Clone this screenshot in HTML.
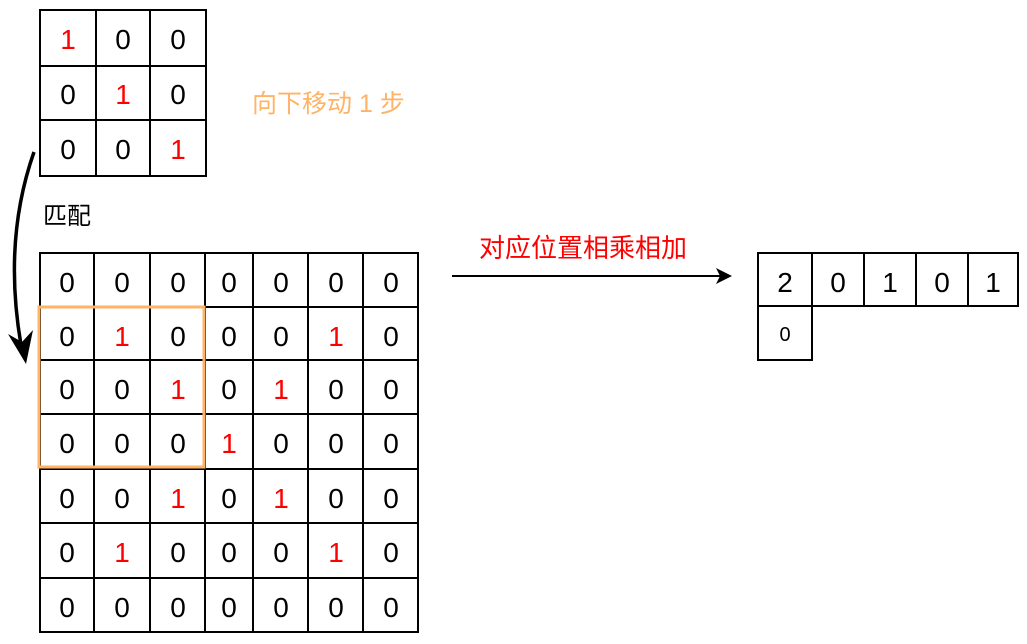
<!DOCTYPE html>
<html><head><meta charset="utf-8"><style>body{margin:0;background:#fff}</style></head><body>
<svg width="1027" height="639" xmlns="http://www.w3.org/2000/svg" font-family="Liberation Sans, Noto Sans CJK SC, sans-serif">
<rect width="1027" height="639" fill="#fff"/>
<g stroke="#000" stroke-width="2" fill="none">
<rect x="40" y="10" width="166" height="166"/>
<line x1="96" y1="10" x2="96" y2="176"/><line x1="150" y1="10" x2="150" y2="176"/>
<line x1="40" y1="66" x2="206" y2="66"/><line x1="40" y1="120" x2="206" y2="120"/>
<rect x="40" y="253" width="378" height="379"/>
<line x1="94" y1="253" x2="94" y2="632"/><line x1="150" y1="253" x2="150" y2="632"/><line x1="205" y1="253" x2="205" y2="632"/><line x1="253" y1="253" x2="253" y2="632"/><line x1="308" y1="253" x2="308" y2="632"/><line x1="363" y1="253" x2="363" y2="632"/>
<line x1="40" y1="307" x2="418" y2="307"/><line x1="40" y1="360" x2="418" y2="360"/><line x1="40" y1="414" x2="418" y2="414"/><line x1="40" y1="469" x2="418" y2="469"/><line x1="40" y1="523" x2="418" y2="523"/><line x1="40" y1="578" x2="418" y2="578"/>
<rect x="758" y="253" width="260" height="53"/>
<line x1="812" y1="253" x2="812" y2="306"/><line x1="864" y1="253" x2="864" y2="306"/><line x1="916" y1="253" x2="916" y2="306"/><line x1="968" y1="253" x2="968" y2="306"/>
<rect x="758" y="306" width="54" height="54"/>
</g>
<rect x="39" y="307" width="165" height="160" fill="none" stroke="#FFB366" stroke-width="3"/>
<path d="M34 152 Q3 240 21 345" fill="none" stroke="#000" stroke-width="3.5"/>
<polygon points="8,334 26,364 33,330 22,342" fill="#000"/>
<line x1="452" y1="276" x2="722" y2="276" stroke="#000" stroke-width="2"/>
<polygon points="732,276 716,268 720,276 716,284" fill="#000"/>
<g font-size="28" text-anchor="middle">
<text x="68" y="49" fill="#f00">1</text><text x="123" y="49">0</text><text x="178" y="49">0</text>
<text x="68" y="104">0</text><text x="123" y="104" fill="#f00">1</text><text x="178" y="104">0</text>
<text x="68" y="159">0</text><text x="123" y="159">0</text><text x="178" y="159" fill="#f00">1</text>
</g>
<g font-size="28" text-anchor="middle">
<text x="67" y="292">0</text><text x="122" y="292">0</text><text x="178" y="292">0</text><text x="229" y="292">0</text><text x="281" y="292">0</text><text x="336" y="292">0</text><text x="391" y="292">0</text>
<text x="67" y="346">0</text><text x="122" y="346" fill="#f00">1</text><text x="178" y="346">0</text><text x="229" y="346">0</text><text x="281" y="346">0</text><text x="336" y="346" fill="#f00">1</text><text x="391" y="346">0</text>
<text x="67" y="399">0</text><text x="122" y="399">0</text><text x="178" y="399" fill="#f00">1</text><text x="229" y="399">0</text><text x="281" y="399" fill="#f00">1</text><text x="336" y="399">0</text><text x="391" y="399">0</text>
<text x="67" y="453">0</text><text x="122" y="453">0</text><text x="178" y="453">0</text><text x="229" y="453" fill="#f00">1</text><text x="281" y="453">0</text><text x="336" y="453">0</text><text x="391" y="453">0</text>
<text x="67" y="508">0</text><text x="122" y="508">0</text><text x="178" y="508" fill="#f00">1</text><text x="229" y="508">0</text><text x="281" y="508" fill="#f00">1</text><text x="336" y="508">0</text><text x="391" y="508">0</text>
<text x="67" y="562">0</text><text x="122" y="562" fill="#f00">1</text><text x="178" y="562">0</text><text x="229" y="562">0</text><text x="281" y="562">0</text><text x="336" y="562" fill="#f00">1</text><text x="391" y="562">0</text>
<text x="67" y="617">0</text><text x="122" y="617">0</text><text x="178" y="617">0</text><text x="229" y="617">0</text><text x="281" y="617">0</text><text x="336" y="617">0</text><text x="391" y="617">0</text>
<text x="785" y="292">2</text><text x="838" y="292">0</text><text x="890" y="292">1</text><text x="942" y="292">0</text><text x="993" y="292">1</text>
</g>
<text x="785" y="341" font-size="20" text-anchor="middle">0</text>
<text x="252" y="112" font-size="25" fill="#FFB366">向下移动 1 步</text>
<text x="43" y="224" font-size="24">匹配</text>
<text x="479" y="257" font-size="26" fill="#f00">对应位置相乘相加</text>
</svg>
</body></html>
